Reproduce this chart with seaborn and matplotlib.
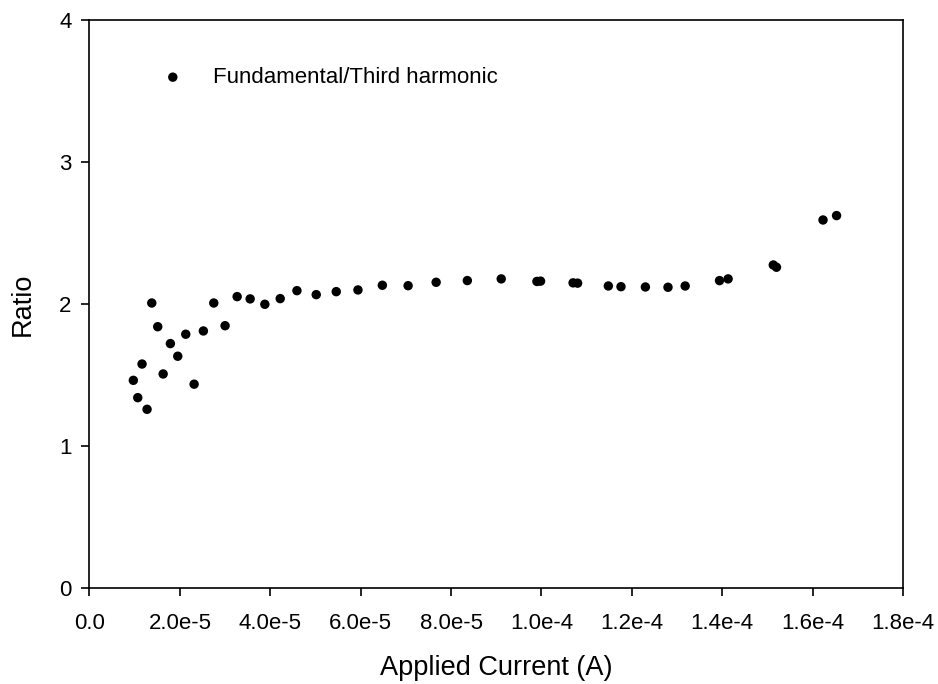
import matplotlib
matplotlib.use("Agg")
import matplotlib.pyplot as plt
import seaborn as sns
import pandas as pd

current = [0.970e-5, 1.068e-5, 1.163e-5, 1.274e-5, 1.378e-5, 1.51e-5, 1.63e-5, 1.79e-5,
           1.953e-5, 2.13e-5, 2.315e-5, 2.52e-5, 2.75e-5, 3.0e-5, 3.267e-5, 3.555e-5,
           3.88e-5, 4.22e-5, 4.59e-5, 5.017e-5, 5.46e-5, 5.94e-5, 6.48e-5, 7.05e-5,
           7.67e-5, 8.36e-5, 9.11e-5, 9.90e-5, 9.98e-5, 1.070e-4, 1.080e-4, 1.148e-4,
           1.176e-4, 1.23e-4, 1.28e-4, 1.318e-4, 1.394e-4, 1.413e-4, 1.513e-4, 1.52e-4,
           1.623e-4, 1.653e-4]
ratio = [1.463, 1.341, 1.578, 1.259, 2.008, 1.841, 1.508, 1.722,
         1.633, 1.788, 1.436, 1.811, 2.008, 1.848, 2.053, 2.037,
         1.999, 2.039, 2.095, 2.067, 2.088, 2.100, 2.133, 2.130,
         2.154, 2.166, 2.178, 2.160, 2.162, 2.150, 2.148, 2.128,
         2.123, 2.121, 2.119, 2.128, 2.166, 2.178, 2.276, 2.260,
         2.593, 2.624]
series_label = "Fundamental/Third harmonic"
x_ticks = [0, 2e-5, 4e-5, 6e-5, 8e-5, 1e-4, 1.2e-4, 1.4e-4, 1.6e-4, 1.8e-4]
x_ticklabels = ["0.0", "2.0e-5", "4.0e-5", "6.0e-5", "8.0e-5", "1.0e-4",
                "1.2e-4", "1.4e-4", "1.6e-4", "1.8e-4"]
y_ticks = [0, 1, 2, 3, 4]

df = pd.DataFrame({"current": current, "ratio": ratio})

sns.set_style("ticks")
plt.rcParams['font.family'] = ['Liberation Sans', 'DejaVu Sans']
plt.rcParams['text.color'] = 'black'
plt.rcParams['axes.labelcolor'] = 'black'

fig = plt.figure(figsize=(9.38, 6.84), dpi=100)
ax = fig.add_axes([0.0954, 0.1404, 0.8673, 0.8299])

sns.scatterplot(data=df, x="current", y="ratio", color="black", s=46,
                edgecolor="none", label=series_label, ax=ax)

ax.set_xlim(0, 1.8e-4)
ax.set_ylim(0, 4)
ax.set_xticks(x_ticks)
ax.set_xticklabels(x_ticklabels)
ax.set_yticks(y_ticks)
ax.tick_params(axis="both", direction="out", length=6, width=1.2,
               labelsize=16, colors="black")
ax.tick_params(axis="x", pad=12)
ax.tick_params(axis="y", pad=7)
for sp in ax.spines.values():
    sp.set_visible(True)
    sp.set_linewidth(1.2)
    sp.set_color("black")

ax.set_xlabel("Applied Current (A)", fontsize=19.5, labelpad=15, color="black")
ax.set_ylabel("Ratio", fontsize=19.5, labelpad=17, color="black")

leg = ax.legend(loc="upper left", bbox_to_anchor=(161.7 / 938, 1 - 67 / 684),
                bbox_transform=fig.transFigure, frameon=False, fontsize=16,
                handlelength=1.0, handletextpad=1.3, borderpad=0, borderaxespad=0,
                markerscale=1.0)
for t in leg.get_texts():
    t.set_color("black")

fig.savefig("out.png", dpi=100)
